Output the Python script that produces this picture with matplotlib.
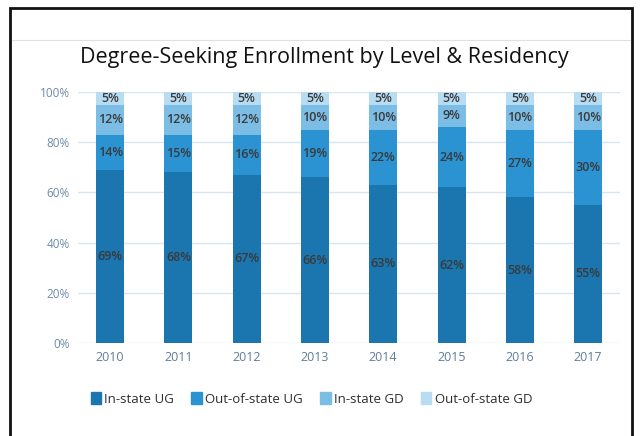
import numpy as np
from matplotlib import pyplot as plt
from matplotlib.patches import Rectangle
from matplotlib.lines import Line2D

years = ["2010", "2011", "2012", "2013", "2014", "2015", "2016", "2017"]
instate_ug = [69, 68, 67, 66, 63, 62, 58, 55]
outstate_ug = [14, 15, 16, 19, 22, 24, 27, 30]
instate_gd = [12, 12, 12, 10, 10, 9, 10, 10]
outstate_gd = [5, 5, 5, 5, 5, 5, 5, 5]

names = ["In-state UG", "Out-of-state UG", "In-state GD", "Out-of-state GD"]
colors = ["#1b75ae", "#2b93d1", "#7cbde6", "#b8dcf2"]
series = [instate_ug, outstate_ug, instate_gd, outstate_gd]

plt.rcParams['font.family'] = ['Open Sans', 'DejaVu Sans']

fig = plt.figure(figsize=(6.42, 4.36), dpi=100)
ax = fig.add_axes([0.1215, 0.2133, 0.8445, 0.5757])

x = np.arange(len(years))
bottom = np.zeros(len(years))
for vals, col, name in zip(series, colors, names):
    vals = np.array(vals)
    ax.bar(x, vals, 0.41, bottom=bottom, color=col, label=name, zorder=2)
    for xi, b, v in zip(x, bottom, vals):
        ax.text(xi, b + v / 2, f"{v}%", ha="center", va="center",
                fontsize=9, color="#3a3a3a", fontweight="semibold", zorder=3)
    bottom = bottom + vals

ax.set_ylim(0, 100)
ax.set_xlim(-0.47, len(years) - 0.53)
ax.set_yticks(range(0, 101, 20))
ax.set_yticklabels([f"{v}%" for v in range(0, 101, 20)], color="#6d8ba8", fontsize=8.5)
ax.set_xticks(x)
ax.set_xticklabels(years, color="#5f7d99", fontsize=9)
ax.grid(axis="y", color="#d6e6f0", linewidth=1, zorder=0)
ax.tick_params(length=0, pad=6)
for s in ax.spines.values():
    s.set_visible(False)

fig.text(0.505, 0.868, "Degree-Seeking Enrollment by Level & Residency",
         ha="center", va="center", fontsize=15.5, color="#111111")

handles = [Rectangle((0, 0), 1, 1, color=c) for c in colors]
fig.legend(handles, names, loc="center", bbox_to_anchor=(0.485, 0.085), ncol=4,
           frameon=False, fontsize=9.5, handlelength=0.8, handleheight=1.0,
           handletextpad=0.25, columnspacing=1.3, labelcolor="#2e2e2e")

# outer frame of the pasted chart
fig.patches.append(Rectangle((10 / 642, -0.05), 622 / 642, 1 - 8 / 436 + 0.05,
                             transform=fig.transFigure, fill=False,
                             edgecolor="#111111", linewidth=2))
fig.lines.append(Line2D([12 / 642, 630 / 642], [1 - 40 / 436] * 2,
                        transform=fig.transFigure, color="#e0e0e0", linewidth=0.8))

fig.savefig("out.png", dpi=100)
